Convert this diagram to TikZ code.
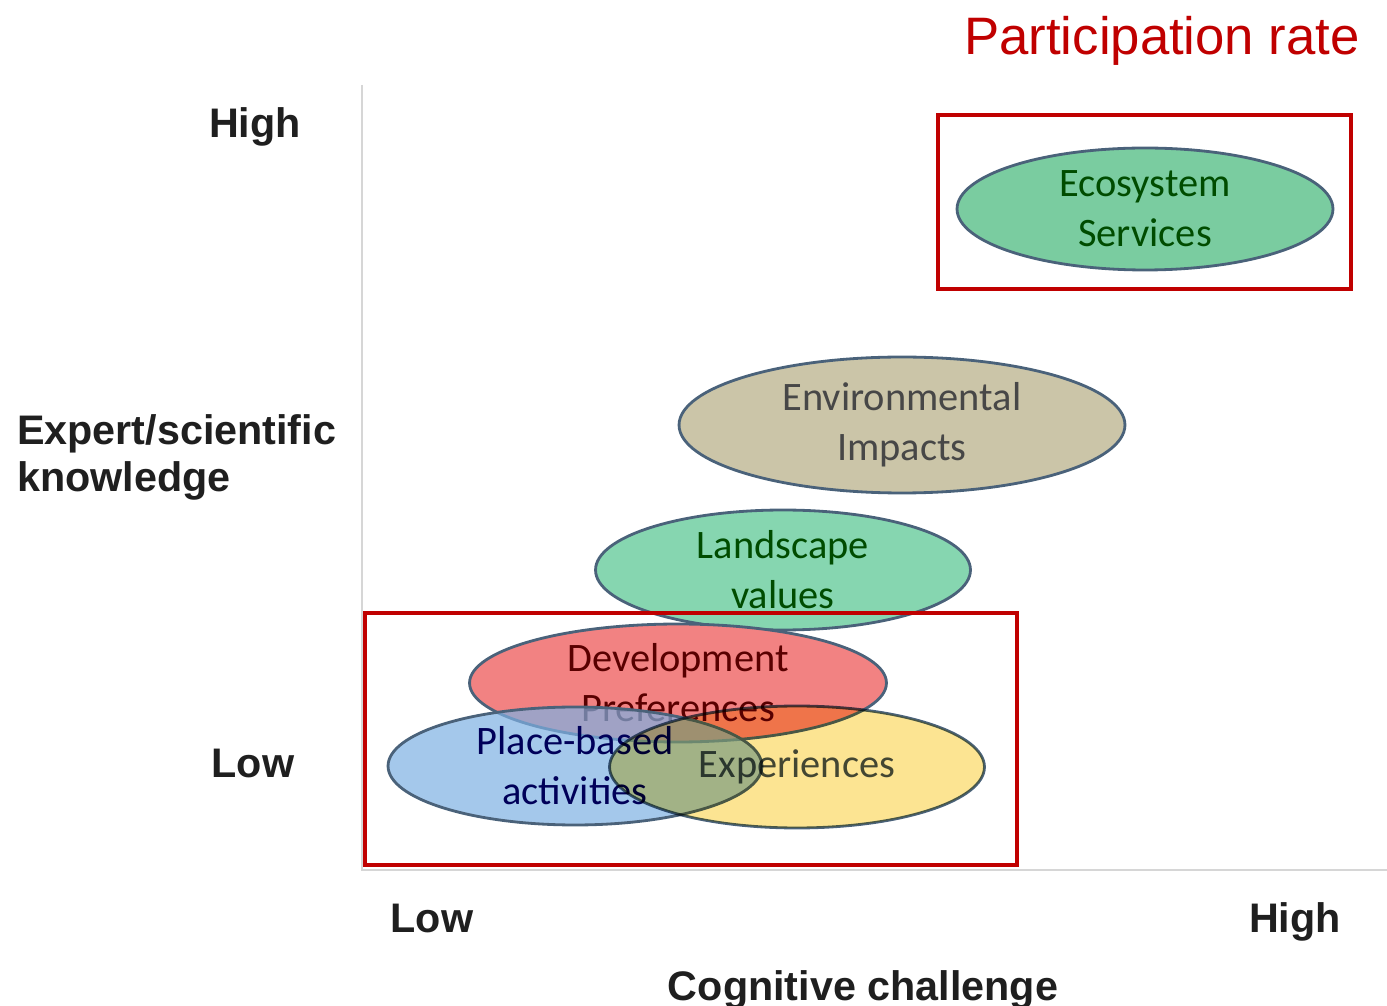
\documentclass[tikz,border=0pt]{standalone}
\usepackage{fontspec}
\setmainfont{Liberation Sans}
\newfontfamily\calfont{Carlito}
\usepackage{xcolor}
\usetikzlibrary{shapes.geometric}
\definecolor{partred}{HTML}{C00000}
\definecolor{edgeblue}{HTML}{4A627A}
\definecolor{ecogreen}{HTML}{7ACCA0}
\definecolor{landgreen}{HTML}{86D6B0}
\definecolor{envtan}{HTML}{CBC5A8}
\definecolor{devred}{HTML}{F28282}
\definecolor{placeblue}{HTML}{7EB0E2}
\definecolor{expyellow}{HTML}{FCE492}
\definecolor{axisgray}{HTML}{D6D6D6}

\begin{document}
\begin{tikzpicture}[x=0.02cm,y=-0.02cm,
  blob/.style={ellipse,draw=edgeblue,line width=1.6pt,inner sep=-8pt,align=center,
    font=\calfont\fontsize{23}{28.5}\selectfont},
  axislab/.style={font=\bfseries\fontsize{23.5}{28}\selectfont,text=black!88},
  redbox/.style={draw=partred,line width=2.3pt}]
\useasboundingbox (0,0) rectangle (1387,1006);
\coordinate (O) at (362,870);
\coordinate (ytop) at (362,85);
\coordinate (xend) at (1387,870);
\draw[axisgray,line width=1.2pt] (ytop) -- (O) -- (xend);

\node[axislab,anchor=base] (yhigh) at (255,138) {High};
\node[axislab,anchor=base west] (ylab1) at (11,445) {Expert/scientific};
\node[axislab,anchor=base west] (ylab2) at (11,492) {knowledge};
\node[axislab,anchor=base] (ylow) at (253,778) {Low};
\node[axislab,anchor=base] (xlow) at (432,932) {Low};
\node[axislab,anchor=base] (xhigh) at (1295,932) {High};
\node[axislab,anchor=base] (xlab) at (863,1000) {Cognitive challenge};
\node[anchor=base east,text=partred,font=\fontsize{30}{36}\selectfont] (part) at (1366,55) {Participation rate};

\node[blob,fill=ecogreen,text=green!30!black,minimum width=7.52cm,minimum height=2.44cm] (eco) at (1145,209) {Ecosystem\\Services};
\node[blob,fill=envtan,text=black!72,minimum width=8.92cm,minimum height=2.72cm] (env) at (902,425) {Environmental\\Impacts};
\node[blob,fill=landgreen,text=green!30!black,minimum width=7.5cm,minimum height=2.4cm] (land) at (783,570) {Landscape\\values};
\node[blob,fill=devred,text=red!35!black,minimum width=8.34cm,minimum height=2.36cm] (dev) at (678,683) {Development\\Preferences};
\node[blob,fill=placeblue,fill opacity=0.7,text opacity=1,text=blue!35!black,minimum width=7.48cm,minimum height=2.36cm] (place) at (575,766) {Place-based\\activities};
\node[blob,fill=expyellow,blend mode=multiply,text=cyan!25!black,minimum width=7.5cm,minimum height=2.44cm] (exper) at (797,767) {Experiences};

\draw[redbox] (938,115) rectangle (1351,289);
\draw[redbox] (365,613) rectangle (1017,865);
\end{tikzpicture}
\end{document}
